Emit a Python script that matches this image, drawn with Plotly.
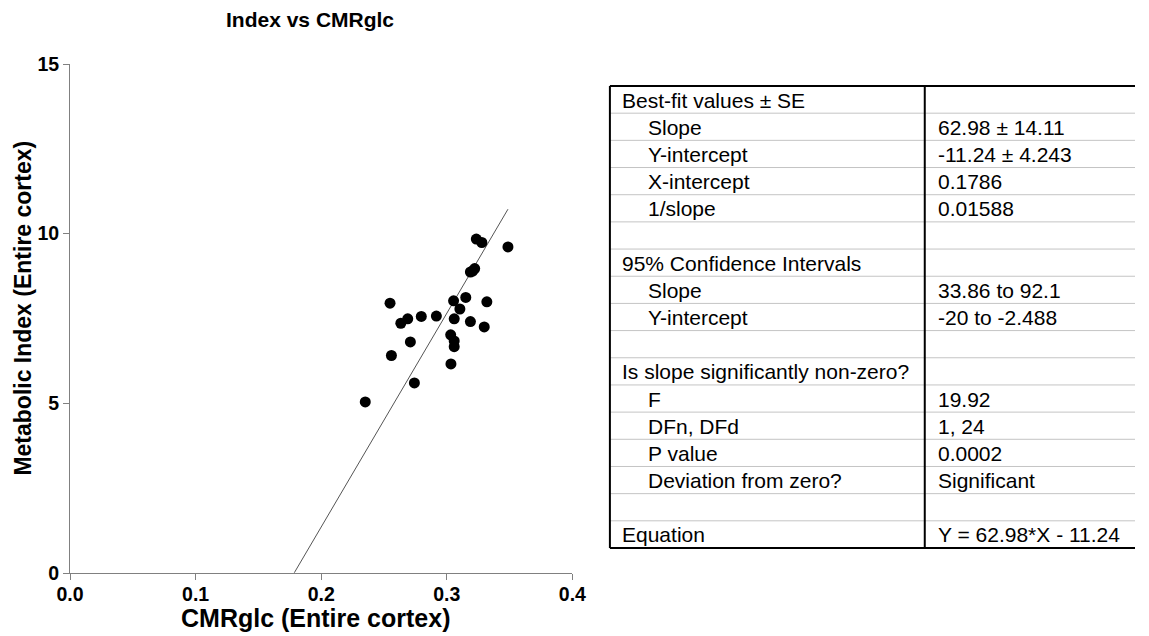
import plotly.graph_objects as go

# ---------------- data ----------------
cmrglc = [0.3235, 0.3279, 0.3487, 0.3222, 0.3188, 0.3206, 0.2548, 0.3054, 0.3151,
          0.3319, 0.3104, 0.2634, 0.2689, 0.2797, 0.2917, 0.3059, 0.3188, 0.3298,
          0.3031, 0.3059, 0.3059, 0.2710, 0.2559, 0.3033, 0.2742, 0.2351]
metabolic_index = [9.84, 9.74, 9.61, 8.97, 8.87, 8.90, 7.95, 8.02, 8.12,
                   7.99, 7.78, 7.36, 7.49, 7.56, 7.57, 7.49, 7.41, 7.25,
                   7.02, 6.84, 6.67, 6.81, 6.41, 6.16, 5.60, 5.04]

slope = 62.98
intercept = -11.24
x_intercept = 0.1786

x_ticks = [0.0, 0.1, 0.2, 0.3, 0.4]
y_ticks = [0, 5, 10, 15]

table_labels = ["Best-fit values ± SE", "Slope", "Y-intercept", "X-intercept", "1/slope", "",
                "95% Confidence Intervals", "Slope", "Y-intercept", "",
                "Is slope significantly non-zero?", "F", "DFn, DFd", "P value",
                "Deviation from zero?", "", "Equation"]
table_values = ["", "62.98 ± 14.11", "-11.24 ± 4.243", "0.1786", "0.01588", "",
                "", "33.86 to 92.1", "-20 to -2.488", "",
                "", "19.92", "1, 24", "0.0002", "Significant", "", "Y = 62.98*X - 11.24"]
table_indent = [0, 1, 1, 1, 1, 0, 0, 1, 1, 0, 0, 1, 1, 1, 1, 0, 0]

# ---------------- layout geometry (pixels) ----------------
W, H = 1149, 636
ML, MT, MB, MR = 70, 64, 63, 0
PW, PH = W - ML - MR, H - MT - MB
AX_RIGHT = 579
T_LEFT, T_DIV, T_TOP, T_BOT = 617, 936, 86, 548
X_LABEL, X_INDENT, X_VALUE = 628, 655, 948

def px(x):
    return (x - ML) / PW

def py(y):
    return (H - MB - y) / PH

FONT = "Liberation Sans, Arial, sans-serif"
TFONT = 21

fig = go.Figure()

# fit line from x-intercept to max x
x_max = max(cmrglc)
fig.add_trace(go.Scatter(
    x=[x_intercept, x_max], y=[slope * x_intercept + intercept, slope * x_max + intercept],
    mode="lines", line=dict(color="#555555", width=1), showlegend=False, hoverinfo="skip"))

fig.add_trace(go.Scatter(
    x=cmrglc, y=metabolic_index, mode="markers",
    marker=dict(color="black", size=11, line=dict(width=0)),
    showlegend=False))

# ---------------- results table ----------------
n_rows = len(table_labels)
row_h = (T_BOT - T_TOP) / n_rows
annotations = []
for i, (lab, val, ind) in enumerate(zip(table_labels, table_values, table_indent)):
    yc = py(T_TOP + (i + 0.5) * row_h + 0.5)
    if lab:
        annotations.append(dict(text=lab, x=px(X_INDENT if ind else X_LABEL), y=yc,
                                xref="paper", yref="paper", xanchor="left", yanchor="middle",
                                showarrow=False, borderpad=0,
                                font=dict(family=FONT, size=TFONT, color="black")))
    if val:
        annotations.append(dict(text=val, x=px(X_VALUE), y=yc,
                                xref="paper", yref="paper", xanchor="left", yanchor="middle",
                                showarrow=False, borderpad=0,
                                font=dict(family=FONT, size=TFONT, color="black")))

shapes = []
for i in range(1, n_rows):
    yy = py(T_TOP + i * row_h)
    shapes.append(dict(type="line", xref="paper", yref="paper", x0=px(T_LEFT), x1=1.0,
                       y0=yy, y1=yy, line=dict(color="#c4c4c4", width=1), layer="below"))
border = dict(color="black", width=2)
shapes += [
    dict(type="line", xref="paper", yref="paper", x0=px(T_LEFT), x1=1.0, y0=py(T_TOP), y1=py(T_TOP), line=border),
    dict(type="line", xref="paper", yref="paper", x0=px(T_LEFT), x1=1.0, y0=py(T_BOT), y1=py(T_BOT), line=border),
    dict(type="line", xref="paper", yref="paper", x0=px(T_LEFT), x1=px(T_LEFT), y0=py(T_TOP), y1=py(T_BOT), line=border),
    dict(type="line", xref="paper", yref="paper", x0=px(T_DIV), x1=px(T_DIV), y0=py(T_TOP), y1=py(T_BOT), line=border),
]

# ---------------- axis titles ----------------
annotations.append(dict(text="CMRglc (Entire cortex)", x=px(319), y=py(618),
                        xref="paper", yref="paper", xanchor="center", yanchor="middle",
                        showarrow=False,
                        font=dict(family=FONT, size=25, color="black", weight="bold")))
annotations.append(dict(text="Metabolic Index (Entire cortex)", x=px(22), y=py(308),
                        xref="paper", yref="paper", xanchor="center", yanchor="middle",
                        textangle=-90, showarrow=False,
                        font=dict(family=FONT, size=23, color="black", weight="bold")))

axis_common = dict(
    showline=True, linecolor="#808080", linewidth=1,
    ticks="outside", ticklen=6, tickwidth=1, tickcolor="#808080",
    showgrid=False, zeroline=False,
    tickfont=dict(family=FONT, size=19.5, color="black", weight="bold"),
)

fig.update_layout(
    width=W, height=H,
    margin=dict(l=ML, r=MR, t=MT, b=MB),
    plot_bgcolor="white", paper_bgcolor="white",
    title=dict(text="Index vs CMRglc", x=226 / W, xanchor="left", xref="container",
               y=1 - 20 / H, yanchor="middle", yref="container",
               font=dict(family=FONT, size=21, color="black", weight="bold")),
    xaxis=dict(domain=[0, px(AX_RIGHT)], range=[0, 0.4], tickvals=x_ticks,
               ticktext=[f"{v:.1f}" for v in x_ticks], ticklabelstandoff=-2,
               **axis_common),
    yaxis=dict(range=[0, 15], tickvals=y_ticks, ticktext=[str(v) for v in y_ticks],
               **axis_common),
    shapes=shapes,
    annotations=annotations,
    showlegend=False,
)

fig.write_html("out.html")
